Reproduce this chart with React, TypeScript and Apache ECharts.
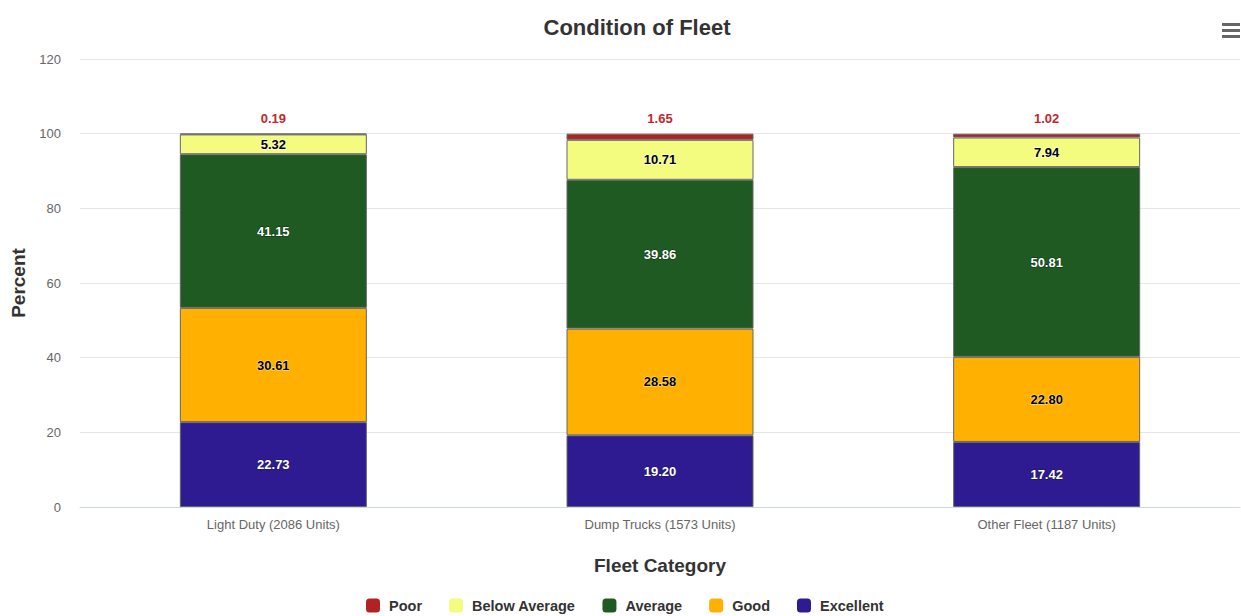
import React, { useEffect, useRef } from "react";
import * as echarts from "echarts";

const categories = ["Light Duty (2086 Units)", "Dump Trucks (1573 Units)", "Other Fleet (1187 Units)"];
const excellent = [22.73, 19.2, 17.42];
const good = [30.61, 28.58, 22.8];
const average = [41.15, 39.86, 50.81];
const belowAverage = [5.32, 10.71, 7.94];
const poor = [0.19, 1.65, 1.02];
const yTicks = [0, 20, 40, 60, 80, 100, 120];

const FONT = "'Liberation Sans', Arial, sans-serif";

export default function App() {
  const ref = useRef<HTMLDivElement>(null);
  useEffect(() => {
    if (!ref.current) return;
    const chart = echarts.init(ref.current, undefined, { renderer: "svg" });
    const mkLabel = (color: string, outline: string, extra: any = {}) => ({
      show: true,
      color,
      fontFamily: FONT,
      fontWeight: "bold",
      fontSize: 13,
      textBorderColor: outline,
      textBorderWidth: 1,
      formatter: (p: any) => Number(p.value).toFixed(2),
      ...extra,
    });
    const barBase = {
      type: "bar",
      stack: "s",
      barWidth: 187,
      itemStyle: { borderColor: "#666666", borderWidth: 1 },
    };
    const series: any[] = [
      {
        ...barBase,
        name: "Excellent",
        data: excellent,
        itemStyle: { ...barBase.itemStyle, color: "#2E1A91" },
        label: mkLabel("#ffffff", "#1a1a4a", { position: "inside" }),
      },
      {
        ...barBase,
        name: "Good",
        data: good,
        itemStyle: { ...barBase.itemStyle, color: "#FFB000" },
        label: mkLabel("#000000", "#ffe9a0", { position: "inside" }),
      },
      {
        ...barBase,
        name: "Average",
        data: average,
        itemStyle: { ...barBase.itemStyle, color: "#1E5A22" },
        label: mkLabel("#ffffff", "#0e2a10", { position: "inside" }),
      },
      {
        ...barBase,
        name: "Below Average",
        data: belowAverage,
        itemStyle: { ...barBase.itemStyle, color: "#F4FC80" },
        label: mkLabel("#000000", "#ffffff", { position: "inside" }),
      },
      {
        ...barBase,
        name: "Poor",
        data: poor,
        itemStyle: { ...barBase.itemStyle, color: "#B22222" },
        label: mkLabel("#C0282D", "#ffffff", { position: "top", distance: 9 }),
      },
    ];
    chart.setOption({
      animation: false,
      backgroundColor: "#ffffff",
      title: {
        text: "Condition of Fleet",
        left: 632,
        textAlign: "center",
        top: 11,
        textStyle: { fontFamily: FONT, fontSize: 22, fontWeight: "bold", color: "#333333" },
      },
      legend: {
        data: ["Poor", "Below Average", "Average", "Good", "Excellent"],
        top: 598,
        left: 366,
        padding: 0,
        itemWidth: 14,
        itemHeight: 14,
        itemGap: 27,
        icon: "roundRect",
        itemStyle: { borderWidth: 0 },
        textStyle: {
          fontFamily: FONT,
          fontSize: 14.5,
          fontWeight: "bold",
          color: "#333333",
          padding: [0, 0, 0, 4],
        },
      },
      grid: {
        left: 80,
        right: 1,
        top: 59,
        bottom: 109,
        containLabel: false,
        outerBoundsMode: "none",
      },
      xAxis: {
        type: "category",
        data: categories,
        name: "Fleet Category",
        nameLocation: "middle",
        nameGap: 49,
        nameTextStyle: { fontFamily: FONT, fontSize: 19, fontWeight: "bold", color: "#333333" },
        axisLine: { lineStyle: { color: "#ccd6eb" } },
        axisTick: { show: false },
        axisLabel: { fontFamily: FONT, fontSize: 13, color: "#666666", margin: 11 },
      },
      yAxis: {
        type: "value",
        min: yTicks[0],
        max: yTicks[yTicks.length - 1],
        interval: 20,
        name: "Percent",
        nameLocation: "middle",
        nameGap: 52,
        nameTextStyle: { fontFamily: FONT, fontSize: 19, fontWeight: "bold", color: "#333333" },
        axisLabel: { fontFamily: FONT, fontSize: 13, color: "#666666", margin: 19 },
        splitLine: { lineStyle: { color: "#e6e6e6" } },
        axisLine: { show: false },
        axisTick: { show: false },
      },
      graphic: [
        { type: "rect", shape: { x: 1222, y: 23, width: 18, height: 3 }, style: { fill: "#666666" } },
        { type: "rect", shape: { x: 1222, y: 29, width: 18, height: 3 }, style: { fill: "#666666" } },
        { type: "rect", shape: { x: 1222, y: 35, width: 18, height: 3 }, style: { fill: "#666666" } },
      ],
      series,
    });
    return () => chart.dispose();
  }, []);
  return (
    <div
      ref={ref}
      style={{ position: "fixed", left: 0, top: 0, width: 1241, height: 616 }}
    />
  );
}
